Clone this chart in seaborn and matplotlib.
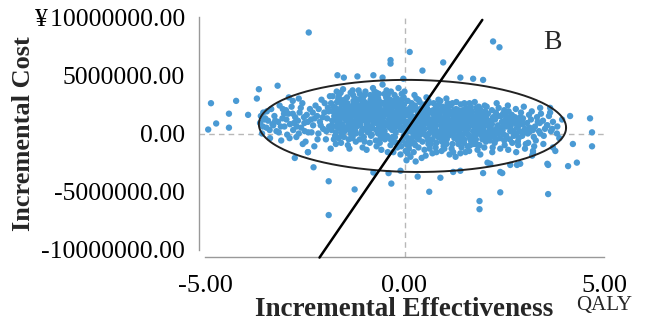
import numpy as np
import pandas as pd
import seaborn as sns
import matplotlib.pyplot as plt

# 데이터 (x: 증분 효과 QALY, y: 증분 비용, 백만 위안 단위) =========================
outliers = [
    (-2.4, 8.67), (0.13, 7.0), (-0.35, 6.3), (-0.35, 6.0), (0.97, 6.1), (2.22, 7.9), (2.38, 7.4), (0.45, 5.4),
    (-1.68, 5.0), (-1.52, 4.8), (-1.18, 4.9), (-0.78, 5.0), (-0.55, 4.8), (-0.03, 4.7), (1.4, 4.8), (1.72, 4.7),
    (1.97, 4.6), (-3.18, 4.1), (-3.65, 3.8), (-3.7, 3.0), (-4.22, 2.8), (-4.85, 2.6), (-2.9, 3.1), (-2.8, 2.8),
    (-2.65, 3.0), (3.65, 2.2), (4.15, 1.5), (4.65, 1.3), (-4.72, 0.86), (-4.4, 1.7), (-3.92, 1.6), (-4.4, 0.5),
    (-4.92, 0.34), (4.7, 0.1), (4.7, -1.1), (4.32, -2.5), (4.1, -2.8), (3.6, -2.7), (3.6, -5.2), (4.22, -0.9),
    (3.78, -1.5), (3.48, -0.9), (3.22, -1.5), (-1.9, -4.1), (-1.25, -4.8), (-0.33, -4.3), (0.62, -5.0),
    (2.4, -5.05), (1.88, -5.8), (1.88, -6.5), (-1.9, -7.0), (-2.28, -2.9), (-2.75, -2.1), (-2.42, -1.6),
    (-2.55, -0.9), (-0.78, -3.35), (-0.4, -3.4), (-0.1, -3.2), (0.33, -3.7), (0.9, -3.8), (1.22, -3.3),
    (1.4, -3.2), (1.97, -3.4), (2.45, -3.4), (2.15, -2.6), (2.08, -2.5), (2.65, -2.7), (2.9, -2.6), (3.22, -1.7),
    (3.4, 2.2), (3.65, 1.8), (3.58, 0.7), (3.7, 0.4), (3.82, 0.0), (3.72, -1.2), (3.58, -2.6), (3.02, -1.3),
    (3.2, -1.9), (2.82, -2.7), (2.4, -3.3), (-2.42, -1.6),
]

left_wing = [
    (-3.62, 0.9), (-3.57, 0.0), (-3.54, 1.8), (-3.49, 1.3), (-3.46, 0.5), (-3.42, 1.1), (-3.37, -0.4),
    (-3.34, 2.1), (-3.29, 0.7), (-3.26, 1.5), (-3.21, 0.2), (-3.17, 1.0), (-3.13, 2.4), (-3.09, -0.6),
    (-3.06, 1.3), (-3.01, 0.6), (-2.97, 2.0), (-2.94, -0.1), (-2.91, 1.7), (-2.87, 0.8), (-2.83, 2.3),
    (-2.79, 0.3), (-2.74, 1.4), (-2.71, -0.3), (-2.67, 1.1), (-2.63, 1.8), (-2.59, 0.5), (-2.56, 2.6),
    (-2.51, 0.9), (-2.48, -0.7), (-2.45, 1.6), (-2.41, 0.1), (-2.37, 2.1), (-2.34, 1.2), (-2.29, 0.7),
    (-2.26, -1.1), (-2.23, 2.4), (-2.19, 1.5), (-2.16, 0.0), (-2.12, 1.0), (-2.08, 2.9), (-2.04, 0.4),
    (-2.01, 1.8), (-1.97, -0.5), (-1.94, 1.3), (-1.92, 2.2), (-1.89, 0.6), (-1.87, 3.2), (-1.85, -1.3),
    (-3.52, 1.2), (-3.31, 0.8), (-3.02, 1.7), (-2.77, 0.9), (-2.52, 1.4), (-2.3, 1.8), (-2.1, 0.7),
    (-3.55, 0.6), (-3.45, 1.9), (-3.38, 0.3), (-3.24, 1.1), (-3.15, 0.1), (-3.05, 2.1), (-2.96, 1.2),
    (-2.88, -0.4), (-2.8, 1.7), (-2.7, 0.6), (-2.6, 2.2), (-2.5, 0.2), (-2.42, 1.0), (-2.33, 0.1),
    (-2.25, 1.3), (-2.15, 2.1), (-2.05, 1.4), (-1.96, 0.2), (-1.9, 1.9), (-2.18, -0.5), (-2.65, 0.0),
    (-3.1, 0.6), (-3.6, 1.5), (-2.0, 2.6),
]

core_left = [
    (-1.83, 0.3), (-1.81, 1.1), (-1.79, 1.9), (-1.84, 2.6), (-1.77, -0.5), (-1.8, 3.2), (-1.76, 1.5), (-1.82, 0.7),
    (-1.73, 2.2), (-1.68, 0.9), (-1.71, 1.4), (-1.66, 3.0), (-1.74, -0.2), (-1.69, 2.7), (-1.72, 0.1), (-1.67, 1.8),
    (-1.7, 3.6), (-1.63, 1.2), (-1.58, 2.5), (-1.61, 0.4), (-1.56, 1.9), (-1.64, 3.3), (-1.59, -0.8), (-1.62, 2.1),
    (-1.57, 0.8), (-1.6, 1.6), (-1.53, 0.6), (-1.48, 1.7), (-1.51, 2.9), (-1.46, 1.1), (-1.54, 3.8), (-1.49, 2.3),
    (-1.52, -0.3), (-1.47, 1.4), (-1.5, 0.2), (-1.45, 2.0), (-1.43, 2.6), (-1.38, 1.0), (-1.41, 1.8), (-1.36, 0.3),
    (-1.44, 3.1), (-1.39, 2.2), (-1.42, -1.0), (-1.37, 1.3), (-1.4, 0.8), (-1.35, 3.5), (-1.33, 1.5), (-1.28, 2.8),
    (-1.31, 0.5), (-1.26, 2.0), (-1.34, 1.2), (-1.29, 3.3), (-1.32, -0.4), (-1.27, 0.9), (-1.3, 2.4), (-1.25, 1.7),
    (-1.23, 0.2), (-1.18, 1.9), (-1.21, 2.6), (-1.16, 1.0), (-1.24, 3.0), (-1.19, 1.4), (-1.22, -0.7), (-1.17, 2.2),
    (-1.2, 0.6), (-1.15, 3.7), (-1.18, 1.7), (-1.13, 1.3), (-1.08, 2.1), (-1.11, 0.7), (-1.06, 2.9), (-1.14, 1.6),
    (-1.09, 0.0), (-1.12, 3.4), (-1.07, 2.5), (-1.1, 1.0), (-1.05, -1.2), (-1.08, 1.9), (-1.03, 2.4), (-0.98, 1.1),
    (-1.01, 0.4), (-0.96, 1.8), (-1.04, 3.1), (-0.99, 2.0), (-1.02, -0.3), (-0.97, 1.4), (-1.0, 2.7), (-0.95, 0.8),
    (-0.98, 3.6), (-0.93, 0.9), (-0.88, 2.2), (-0.91, 1.5), (-0.86, 3.3), (-0.94, 0.2), (-0.89, 2.6), (-0.92, 1.2),
    (-0.87, -0.8), (-0.9, 1.9), (-0.85, 2.9), (-0.88, 0.6), (-0.83, 1.7), (-0.78, 2.8), (-0.81, 0.5), (-0.76, 1.0),
    (-0.84, 2.3), (-0.79, 3.9), (-0.82, -0.1), (-0.77, 1.4), (-0.8, 2.0), (-0.75, 3.2), (-0.78, 0.9), (-0.73, 2.1),
    (-0.68, 1.3), (-0.71, 0.3), (-0.66, 3.0), (-0.74, 1.8), (-0.69, 2.5), (-0.72, -0.6), (-0.67, 0.8), (-0.7, 3.5),
    (-0.65, 1.6), (-0.68, 2.8), (-0.63, 0.7), (-0.58, 1.9), (-0.61, 2.7), (-0.56, 1.2), (-0.64, 3.4), (-0.59, -0.2),
    (-0.62, 2.2), (-0.57, 1.5), (-0.6, 0.4), (-0.55, 4.2), (-0.58, -1.4), (-0.53, 1.4), (-0.48, 2.4), (-0.51, 0.6),
    (-0.46, 3.1), (-0.54, 1.9), (-0.49, -0.5), (-0.52, 1.0), (-0.47, 2.7), (-0.5, 0.2), (-0.45, 3.7), (-0.48, 1.7),
    (-0.43, 2.0), (-0.38, 0.9), (-0.41, 1.6), (-0.36, 2.9), (-0.44, -0.2), (-0.39, 1.2), (-0.42, 3.3), (-0.37, 0.5),
    (-0.4, 2.3), (-0.35, -1.0), (-0.38, 1.8), (-0.33, 1.1), (-0.28, 2.5), (-0.31, 0.3), (-0.26, 1.7), (-0.34, 3.6),
    (-0.29, 0.8), (-0.32, 2.1), (-0.27, -0.7), (-0.3, 1.4), (-0.25, 2.8), (-0.28, -1.6), (-0.23, 1.8), (-0.18, 0.6),
    (-0.21, 2.3), (-0.16, 1.2), (-0.24, -0.3), (-0.19, 3.0), (-0.22, 0.1), (-0.17, 2.0), (-0.2, 1.5), (-0.15, 3.9),
    (-0.18, -1.2), (-0.13, 0.9), (-0.08, 2.2), (-0.11, 1.4), (-0.06, -0.6), (-0.14, 2.7), (-0.09, 0.3), (-0.12, 1.7),
    (-0.07, 3.4), (-0.1, -1.8), (-0.05, 1.1), (-0.08, 2.0), (-0.03, 1.3), (0.02, 0.4), (-0.01, 2.5), (0.04, -0.9),
    (-0.04, 1.8), (0.01, 0.9), (-0.02, 3.1), (0.03, -1.5), (0.0, 2.1), (0.05, -2.3), (0.02, 0.0),
]

core_right = [
    (0.07, 0.6), (0.12, 1.5), (0.09, -0.4), (0.14, 2.2), (0.06, 1.0), (0.11, -1.3), (0.08, 2.8), (0.13, 0.2),
    (0.1, 1.8), (0.15, -2.0), (0.17, 1.2), (0.22, 0.1), (0.19, 2.0), (0.24, -0.8), (0.16, 1.6), (0.21, 0.7),
    (0.18, 2.6), (0.23, -1.6), (0.2, 0.4), (0.25, 3.3), (0.27, 0.8), (0.32, 1.9), (0.29, -0.3), (0.34, 1.3),
    (0.26, 2.4), (0.31, 0.2), (0.28, -2.4), (0.33, 1.6), (0.3, 0.5), (0.35, 2.9), (0.37, 1.5), (0.42, 0.3),
    (0.39, 2.1), (0.44, 0.9), (0.36, -0.5), (0.41, 1.2), (0.38, 2.7), (0.43, -2.1), (0.4, 0.6), (0.45, 1.8),
    (0.47, 0.1), (0.52, 1.1), (0.49, 1.9), (0.54, -0.2), (0.46, 0.7), (0.51, 2.5), (0.48, 1.4), (0.53, -1.9),
    (0.5, 0.4), (0.55, 3.1), (0.57, 1.7), (0.62, 0.5), (0.59, -0.6), (0.64, 1.0), (0.56, 2.2), (0.61, 0.0),
    (0.58, 1.4), (0.63, -1.3), (0.6, 2.8), (0.65, 0.8), (0.67, 0.9), (0.72, 2.0), (0.69, 0.2), (0.74, 1.3),
    (0.66, -0.9), (0.71, 1.7), (0.68, 0.6), (0.73, 2.6), (0.7, -1.7), (0.75, 1.1), (0.77, 0.4), (0.82, 1.5),
    (0.79, 2.3), (0.84, -0.3), (0.76, 0.9), (0.81, 1.9), (0.78, -1.2), (0.83, 0.1), (0.8, 1.2), (0.85, 2.9),
    (0.87, 1.1), (0.92, 0.3), (0.89, 1.8), (0.94, -0.7), (0.86, 2.5), (0.91, 0.7), (0.88, 1.4), (0.93, -1.5),
    (0.9, 0.0), (0.95, 2.1), (0.97, 0.6), (1.02, 1.6), (0.99, -0.2), (1.04, 2.2), (0.96, 1.0), (1.01, 0.2),
    (0.98, -1.1), (1.03, 1.9), (1.0, 0.8), (1.05, 3.0), (1.07, 1.3), (1.12, 0.0), (1.09, 2.0), (1.14, 0.7),
    (1.06, -0.5), (1.11, 1.6), (1.08, 2.6), (1.13, -1.8), (1.1, 0.4), (1.15, 1.1), (1.17, 0.8), (1.22, 1.8),
    (1.19, -0.1), (1.24, 1.2), (1.16, 2.4), (1.21, 0.3), (1.18, -1.3), (1.23, 1.5), (1.2, 0.6), (1.25, 2.0),
    (1.27, 0.2), (1.32, 1.4), (1.29, 2.1), (1.34, -0.6), (1.26, 0.9), (1.31, 1.7), (1.28, -2.0), (1.33, 0.5),
    (1.3, 2.7), (1.35, 1.1), (1.37, 1.0), (1.42, 0.4), (1.39, 1.9), (1.44, -0.3), (1.36, 1.5), (1.41, 2.5),
    (1.38, 0.1), (1.43, -1.2), (1.4, 0.7), (1.47, 1.6), (1.52, 0.6), (1.49, -0.8), (1.54, 2.2), (1.46, 1.1),
    (1.51, 0.0), (1.48, 1.8), (1.53, -1.6), (1.5, 0.9), (1.57, 0.3), (1.62, 1.3), (1.59, 2.0), (1.64, -0.4),
    (1.56, 0.8), (1.61, 1.7), (1.58, -1.1), (1.63, 2.6), (1.6, 0.5), (1.67, 1.2), (1.72, 0.2), (1.69, 1.6),
    (1.74, -0.9), (1.66, 2.3), (1.71, 0.7), (1.68, 1.0), (1.73, -0.2), (1.77, 0.5), (1.82, 1.8), (1.79, -0.5),
    (1.84, 1.1), (1.76, 2.7), (1.81, 0.1), (1.78, 1.4), (1.83, -1.4), (1.87, 1.5), (1.92, 0.4), (1.89, 2.1),
    (1.94, -0.2), (1.86, 0.9), (1.91, 1.2), (1.88, -1.0), (1.93, 0.0), (1.97, 0.8), (2.02, 1.9), (1.99, 0.2),
    (2.04, -0.7), (1.96, 1.3), (2.01, 2.4), (1.98, 0.6),
]

core_dense = [
    (-1.75, 1.2), (-1.65, 0.5), (-1.55, 2.7), (-1.45, 1.6), (-1.35, 0.0), (-1.25, 2.2), (-1.15, 0.9), (-1.05, 1.5),
    (-0.95, 2.4), (-0.85, 0.4), (-0.75, 1.9), (-0.65, 1.0), (-0.55, 2.6), (-0.45, 0.8), (-0.35, 2.0), (-0.25, 1.0),
    (-0.15, 2.6), (-0.05, 0.5), (0.05, 1.6), (0.15, 0.8), (0.25, 1.4), (0.35, 0.0), (0.45, 2.3), (0.55, 0.9),
    (0.65, 1.9), (0.75, 0.1), (0.85, 1.7), (0.95, 1.3), (1.05, 0.4), (1.15, 1.9), (1.25, -0.4), (1.35, 2.0),
    (1.45, 1.2), (1.55, 0.3), (1.65, 1.5), (1.75, 0.9), (1.85, 0.2), (1.95, 1.7), (2.05, 1.3), (2.15, 0.0),
    (-1.78, 2.3), (-1.69, 1.6), (-1.58, 0.0), (-1.47, 2.5), (-1.36, 1.7), (-1.27, 0.6), (-1.16, 2.9), (-1.06, 0.3),
    (-0.97, 1.6), (-0.86, 1.2), (-0.77, 2.5), (-0.66, 0.0), (-0.57, 0.9), (-0.46, 2.1), (-0.37, 1.3), (-0.26, 0.4),
    (-0.16, 1.0), (-0.06, 2.9), (0.04, 1.9), (0.14, -0.9), (0.26, 0.9), (0.36, 1.7), (0.46, 0.2), (0.56, 1.6),
    (0.66, 0.4), (0.76, 1.5), (0.86, -0.2), (0.96, 2.3), (1.06, 1.0), (1.16, 0.1), (1.26, 1.6), (1.36, 0.6),
    (1.46, 2.0), (1.56, 1.4), (1.66, -0.6), (1.76, 1.2), (1.86, 2.3), (1.96, 0.4), (2.06, 1.6), (2.16, 1.1),
    (-1.71, 0.6), (-1.62, 2.9), (-1.51, 1.3), (-1.42, 0.4), (-1.31, 1.9), (-1.22, 1.1), (-1.11, 2.3), (-1.01, 1.2),
    (-0.92, 0.5), (-0.81, 2.6), (-0.72, 1.5), (-0.61, 1.8), (-0.52, 0.3), (-0.41, 2.6), (-0.32, 1.6), (-0.21, 0.8),
    (-0.11, 1.9), (-0.01, 1.6), (0.09, 0.3), (0.19, 1.3), (0.29, 2.1), (0.39, 1.0), (0.49, 0.9), (0.59, 2.0),
    (0.69, 1.2), (0.79, 0.7), (0.89, 2.0), (0.99, 0.4), (1.09, 1.5), (1.19, 0.9), (1.29, 1.3), (1.39, -0.2),
    (1.49, 0.5), (1.59, 1.0), (1.69, 1.9), (1.79, 0.3), (1.89, 0.6), (1.99, 1.1), (2.09, -0.1), (2.19, 0.8),
    (-1.4, -0.5), (-1.0, -0.7), (-0.6, -0.4), (-0.2, -0.8), (0.1, -0.6), (0.35, -1.2), (0.6, -0.9), (0.8, -0.8),
    (1.0, -0.6), (1.2, -0.9), (1.4, -0.7), (1.6, -0.1), (1.8, -0.9), (2.0, -0.3), (2.3, 0.4), (2.45, 0.5),
    (2.55, 1.5), (2.7, 1.2), (2.85, 1.1), (3.0, 0.1), (2.35, 1.5), (2.5, 2.0), (2.65, 0.2), (2.9, 1.4),
    (-1.6, 3.5), (-1.3, 3.7), (-1.0, 3.3), (-0.75, 3.6), (-0.5, 3.4), (-0.25, 3.3), (0.0, 3.6), (0.3, 3.0),
    (0.6, 2.6), (0.9, 2.8), (1.2, 2.6), (1.5, 2.6), (1.8, 2.2),
]

core_low = [
    (-1.72, -0.9), (-1.55, -0.2), (-1.38, -1.3), (-1.22, 0.0), (-1.12, -0.5), (-0.95, -1.4), (-0.84, -0.2),
    (-0.7, -1.1), (-0.55, 0.0), (-0.42, -1.6), (-0.3, -0.3), (-0.15, -0.9), (-0.02, -0.2), (0.08, -1.7),
    (0.18, -0.4), (0.27, -1.0), (0.4, -0.1), (0.5, -1.4), (0.58, -0.3), (0.7, -0.5), (0.8, -1.6), (0.9, -0.4),
    (1.0, -1.3), (1.1, -0.2), (1.22, -1.6), (1.3, -0.3), (1.4, -1.7), (1.5, -0.5), (1.62, -1.5), (1.7, -0.5),
    (1.8, -0.1), (1.9, -1.8), (2.0, -1.2), (2.1, -0.3), (2.2, -1.6), (2.3, -0.5), (2.4, -1.3), (2.5, -0.6),
    (2.6, -1.4), (2.7, -0.8), (2.8, -1.6), (2.95, -0.2), (3.1, -0.8), (3.25, -1.1), (3.4, 0.0), (-1.65, -0.4),
    (-1.3, -0.3), (-0.9, 0.1), (-0.62, -0.8), (-0.35, -0.5), (-0.08, -1.1), (0.22, 0.0), (0.45, -0.7),
    (0.75, -0.1), (1.05, -0.9), (1.35, -0.9), (1.65, -1.0), (1.95, -0.5), (2.25, 0.2), (2.55, -0.2),
    (2.85, -1.0), (3.15, 0.2),
]

right_wing = [
    (2.07, 1.0), (2.12, 0.2), (2.09, 1.7), (2.14, -0.6), (2.06, 2.3), (2.11, 0.6), (2.17, 0.4), (2.22, 1.4),
    (2.19, 2.0), (2.24, -0.3), (2.16, 0.9), (2.21, -1.2), (2.27, 1.2), (2.32, 0.0), (2.29, 1.8), (2.34, 0.7),
    (2.26, -0.8), (2.31, 2.6), (2.37, 0.5), (2.42, 1.5), (2.39, -0.4), (2.44, 1.0), (2.36, 2.2), (2.41, 0.1),
    (2.47, 1.7), (2.52, 0.8), (2.49, -0.1), (2.54, 1.2), (2.46, 0.3), (2.51, -1.0), (2.57, 0.6), (2.62, 1.3),
    (2.59, 2.4), (2.64, -0.5), (2.56, 0.9), (2.61, 1.9), (2.67, 1.0), (2.72, 0.2), (2.69, 1.6), (2.74, -0.2),
    (2.66, 0.6), (2.77, 1.4), (2.82, 0.5), (2.79, 2.1), (2.84, -0.7), (2.76, 0.9), (2.81, 0.0), (2.87, 0.7),
    (2.92, 1.8), (2.89, 0.2), (2.94, 1.1), (2.86, -0.4), (2.97, 1.3), (3.02, 0.4), (2.99, 2.3), (3.04, -0.9),
    (2.96, 0.8), (3.07, 0.9), (3.12, 1.6), (3.09, 0.0), (3.14, 0.5), (3.17, 1.2), (3.22, 0.3), (3.19, 1.9),
    (3.24, -0.3), (3.27, 0.6), (3.32, 1.4), (3.29, -0.6), (3.34, 1.0), (3.37, 0.2), (3.42, 1.7), (3.39, 0.9),
    (3.47, 1.1), (3.52, 0.4), (3.49, -0.2), (3.57, 0.7), (3.62, 1.5), (3.67, 0.2), (3.72, 1.0), (3.83, 0.6),
    (3.88, -0.4), (3.95, 1.2),
]

x_ticks = [-5, 0, 5]
x_tick_labels = ['-5.00', '0.00', '5.00']
y_ticks = [-10000000, -5000000, 0, 5000000, 10000000]
y_tick_labels = ['-10000000.00', '-5000000.00', '0.00', '5000000.00', '\u00a5\u200a10000000.00']

# 지불의사선 (원점 통과, 기울기 위안/QALY) 과 타원 (중심, 반축)
wtp = 5000000
wtp_x = [-2.13, 1.95]
ell_center = (0.2, 0.65e6)
ell_a, ell_b, ell_shear = 3.85, 3.95e6, -0.15e6

# ========================================================================
pts = outliers + left_wing + core_left + core_right + core_dense + core_low + right_wing
df = pd.DataFrame(pts, columns=['eff', 'cost_m'])
df['cost'] = df['cost_m'] * 1e6

sns.set_style('white')
plt.rcParams['font.family'] = ['Liberation Serif', 'DejaVu Serif']

fig = plt.figure(figsize=(6.46, 3.30), dpi=100)
ax = fig.add_axes([205 / 646, 80 / 330, 399 / 646, 233 / 330])

# 0 기준 점선
ax.axvline(0, ymin=-0.03, ymax=1.0, color='#b8b8b8', lw=1, ls=(0, (4, 3)), clip_on=False, zorder=1)
ax.axhline(0, xmin=-0.015, xmax=1.0, color='#b8b8b8', lw=1, ls=(0, (4, 3)), clip_on=False, zorder=1)

sns.scatterplot(data=df, x='eff', y='cost', color='#4a9ad4', s=21, edgecolor='none', linewidth=0,
                ax=ax, zorder=2, clip_on=False)

# 타원
t = np.linspace(0, 2 * np.pi, 300)
ex = ell_center[0] + ell_a * np.cos(t)
ey = ell_center[1] + ell_b * np.sin(t) + ell_shear * np.cos(t)
ax.plot(ex, ey, color='#222222', lw=1.4, zorder=3)

# WTP 선
wx = np.array(wtp_x)
ax.plot(wx, wtp * wx, color='black', lw=1.8, zorder=4, clip_on=False)

ax.set_xlim(-5, 5)
ax.set_ylim(-10000000, 10000000)
ax.set_xticks(x_ticks)
ax.set_xticklabels(x_tick_labels)
ax.set_yticks(y_ticks)
ax.set_yticklabels(y_tick_labels)
ax.tick_params(axis='both', colors='#999999', labelcolor='black', direction='out')
ax.tick_params(axis='y', length=4, pad=6, labelsize=18.5)
ax.tick_params(axis='x', length=3, pad=10, labelsize=19)

for s in ['top', 'right']:
    ax.spines[s].set_visible(False)
ax.spines['left'].set_position(('outward', 4.3))
ax.spines['bottom'].set_position(('outward', 5))
for s in ['left', 'bottom']:
    ax.spines[s].set_color('#999999')
    ax.spines[s].set_linewidth(1)

ax.set_xlabel('Incremental Effectiveness', fontsize=19.5, fontweight='bold')
ax.xaxis.set_label_coords(0.5, -0.255)
ax.xaxis.label.set_va('center')
ax.set_ylabel('Incremental Cost', fontsize=19, fontweight='bold')
ax.yaxis.set_label_coords(-0.456, 0.5)
ax.yaxis.label.set_va('center')

ax.text(5, -0.24, 'QALY', transform=ax.get_xaxis_transform(), fontsize=15, ha='center', va='center')
ax.text(3.72, 7800000, 'B', fontsize=20, ha='center', va='center')

fig.savefig('out.png', dpi=100)
